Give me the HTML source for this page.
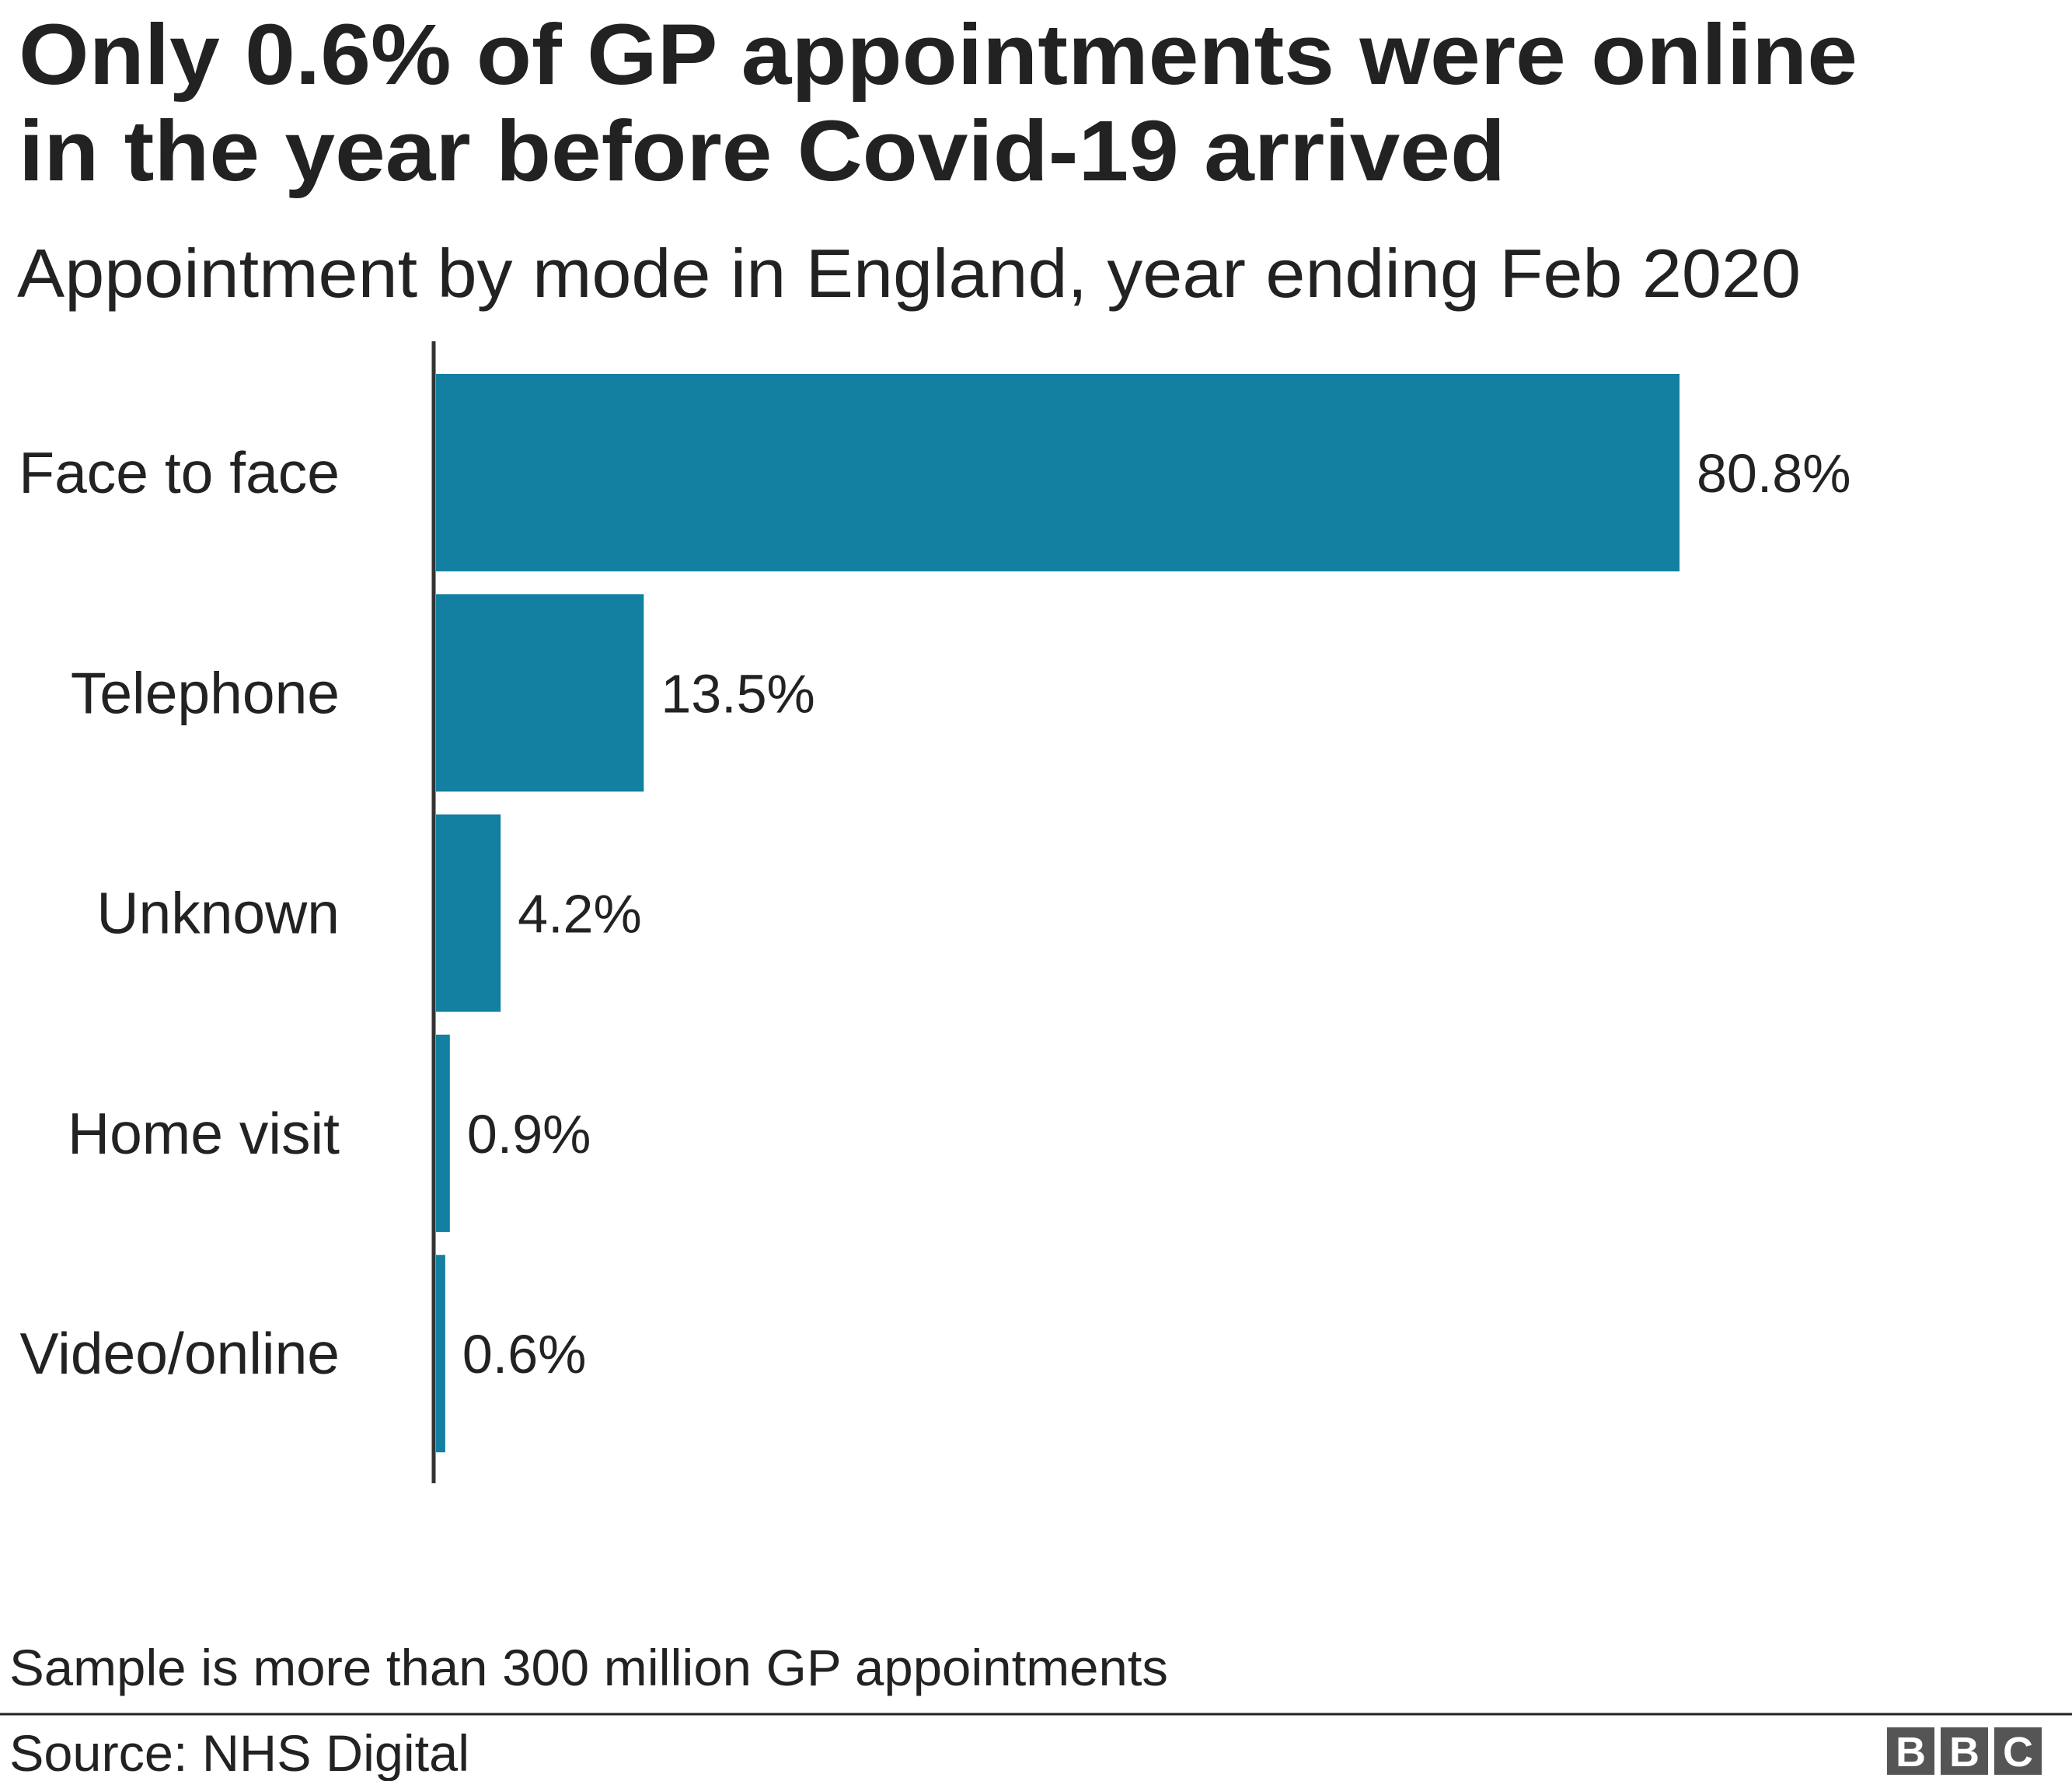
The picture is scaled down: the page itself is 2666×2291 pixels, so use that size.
<!DOCTYPE html>
<html><head><meta charset="utf-8"><style>
body{margin:0;background:#fff;width:2666px;height:2291px;overflow:hidden;font-family:"Liberation Sans",Arial,sans-serif;color:#222}
svg{display:block}
</style></head><body>
<svg width="2666" height="2291" viewBox="0 0 2666 2291">
<text x="24" y="108" font-size="110" font-weight="bold" fill="#222" textLength="2366" lengthAdjust="spacingAndGlyphs">Only 0.6% of GP appointments were online</text>
<text x="24" y="232" font-size="110" font-weight="bold" fill="#222" textLength="1913" lengthAdjust="spacingAndGlyphs">in the year before Covid-19 arrived</text>
<text x="22" y="382" font-size="88" fill="#222" textLength="2295" lengthAdjust="spacingAndGlyphs">Appointment by mode in England, year ending Feb 2020</text>
<g id="bars"></g>
<line x1="558" y1="439" x2="558" y2="1908" stroke="#333" stroke-width="5"/>
<text x="12" y="2168" font-size="66" fill="#222" textLength="1491" lengthAdjust="spacingAndGlyphs">Sample is more than 300 million GP appointments</text>
<line x1="0" y1="2205" x2="2666" y2="2205" stroke="#222" stroke-width="3"/>
<text x="12" y="2278" font-size="66" fill="#222" textLength="592" lengthAdjust="spacingAndGlyphs">Source: NHS Digital</text>
<g font-weight="bold" font-size="54" fill="#fff" text-anchor="middle">
<rect x="2428" y="2222" width="61" height="61" fill="#555"/><text x="2458.5" y="2272">B</text>
<rect x="2497" y="2222" width="61" height="61" fill="#555"/><text x="2527.5" y="2272">B</text>
<rect x="2566" y="2222" width="61" height="61" fill="#555"/><text x="2596.5" y="2272">C</text>
</g>
</svg>
<script>
const categories=["Face to face","Telephone","Unknown","Home visit","Video/online"];
const values=[80.8,13.5,4.2,0.9,0.6];
const valueLabels=["80.8%","13.5%","4.2%","0.9%","0.6%"];
const NS="http://www.w3.org/2000/svg";
const x0=561, pxPer=(2161-561)/80.8;
const xScale=v=>x0+v*pxPer;
const yScale=i=>481+i*283.3;
const bh=254;
const g=document.getElementById('bars');
categories.forEach((c,i)=>{
  const y=yScale(i);
  const r=document.createElementNS(NS,'rect');
  r.setAttribute('x',x0);r.setAttribute('y',y);
  r.setAttribute('width',xScale(values[i])-x0);r.setAttribute('height',bh);
  r.setAttribute('fill','#1380A1');
  
  
  g.appendChild(r);
  const t=document.createElementNS(NS,'text');
  t.setAttribute('x',437);t.setAttribute('y',y+bh/2+26);
  t.setAttribute('font-size','75');t.setAttribute('text-anchor','end');t.setAttribute('fill','#222');
  t.textContent=c;
  
  
  g.appendChild(t);
  const v=document.createElementNS(NS,'text');
  v.setAttribute('x',xScale(values[i])+22);v.setAttribute('y',y+bh/2+25);
  v.setAttribute('font-size','70');v.setAttribute('fill','#222');
  v.textContent=valueLabels[i];
  
  
  g.appendChild(v);
});
</script>
</body></html>
